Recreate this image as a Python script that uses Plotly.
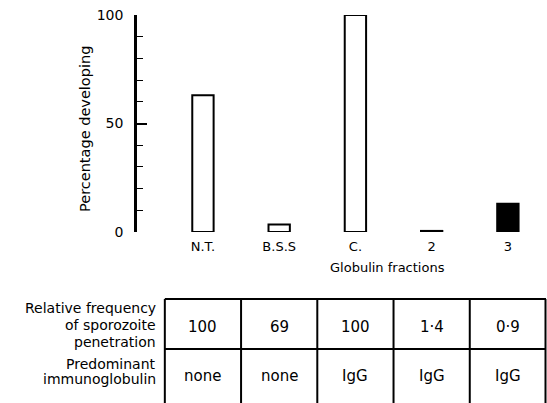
import plotly.graph_objects as go

# ---- data ----
categories = ["N.T.", "B.S.S", "C.", "2", "3"]
pct_developing = [63, 3.5, 100, 0.5, 13]
bar_fill = ["white", "white", "white", "white", "black"]
row_labels = [["Relative frequency", "of sporozoite", "penetration"],
              ["Predominant", "immunoglobulin"]]
penetration = ["100", "69", "100", "1\u00b74", "0\u00b79"]
immunoglobulin = ["none", "none", "IgG", "IgG", "IgG"]
y_ticks = [0, 50, 100]

W, H = 547, 403
ML, MR, MT, MB = 137, 1, 15, 171
XR = [-0.865, 4.5]
FONT = "DejaVu Sans"

def px_y(py):
    return (H - MB - py) / (H - MT - MB)

def px_x(px):
    return (px - ML) / (W - ML - MR)

def cat_x(i):
    return (i - XR[0]) / (XR[1] - XR[0])

fig = go.Figure()
fig.add_trace(go.Bar(
    x=list(range(len(categories))), y=pct_developing,
    width=0.28,
    marker=dict(color=bar_fill, line=dict(color="black", width=2)),
    hoverinfo="skip",
))

shapes = []
ann = []
# table lines
top, mid, bot = px_y(299), px_y(349), px_y(404)
left, right = cat_x(-0.5), cat_x(len(categories) - 0.5)
lw = 2
for yy in [top, mid]:
    shapes.append(dict(type="line", xref="paper", yref="paper", x0=left, x1=right,
                       y0=yy, y1=yy, line=dict(color="black", width=lw)))
for k in range(len(categories) + 1):
    xx = cat_x(k - 0.5)
    if k == len(categories):
        xx = px_x(545.5)
    shapes.append(dict(type="line", xref="paper", yref="paper", x0=xx, x1=xx,
                       y0=top, y1=bot, line=dict(color="black", width=lw)))

cell_font = dict(size=15, family=FONT, color="black")
for i, (a, b) in enumerate(zip(penetration, immunoglobulin)):
    ann.append(dict(x=cat_x(i), y=px_y(327), xref="paper", yref="paper", text=a,
                    xanchor="center", yanchor="middle", showarrow=False, font=cell_font))
    ann.append(dict(x=cat_x(i), y=px_y(376), xref="paper", yref="paper", text=b,
                    xanchor="center", yanchor="middle", showarrow=False, font=cell_font))

label_y = [[308, 325, 342], [364, 379]]
for lines, ys in zip(row_labels, label_y):
    for t, yy in zip(lines, ys):
        ann.append(dict(x=px_x(158), y=px_y(yy), xref="paper", yref="paper", text=t,
                        xanchor="right", yanchor="middle", showarrow=False,
                        font=dict(size=14, family=FONT, color="black")))

# axis titles
ann.append(dict(x=px_x(85), y=px_y(129), xref="paper", yref="paper",
                text="Percentage developing", textangle=-90, showarrow=False,
                xanchor="center", yanchor="middle",
                font=dict(size=14.5, family=FONT, color="black")))
ann.append(dict(x=px_x(387), y=px_y(267), xref="paper", yref="paper",
                text="Globulin fractions", showarrow=False,
                xanchor="center", yanchor="middle",
                font=dict(size=13, family=FONT, color="black")))

fig.update_layout(
    width=W, height=H,
    margin=dict(l=ML, r=MR, t=MT, b=MB, pad=0),
    paper_bgcolor="white", plot_bgcolor="white",
    showlegend=False,
    shapes=shapes, annotations=ann,
    xaxis=dict(range=XR, tickvals=list(range(len(categories))), ticktext=categories,
               showline=False, showgrid=False, zeroline=False, ticks="",
               ticklabelstandoff=5,
               tickfont=dict(size=13, family=FONT, color="black")),
    yaxis=dict(range=[0, 100], tickvals=y_ticks, showline=True, linewidth=2.5,
               linecolor="black", showgrid=False, zeroline=False,
               ticks="inside", ticklen=10, tickwidth=1.5, tickcolor="black",
               ticklabelstandoff=8,
               minor=dict(dtick=10, ticks="inside", ticklen=6, tickwidth=1.2,
                          tickcolor="black", showgrid=False),
               tickfont=dict(size=14, family=FONT, color="black")),
)
fig.write_html("out.html", config={"displayModeBar": False},
               post_script="document.body.style.margin='0';")
